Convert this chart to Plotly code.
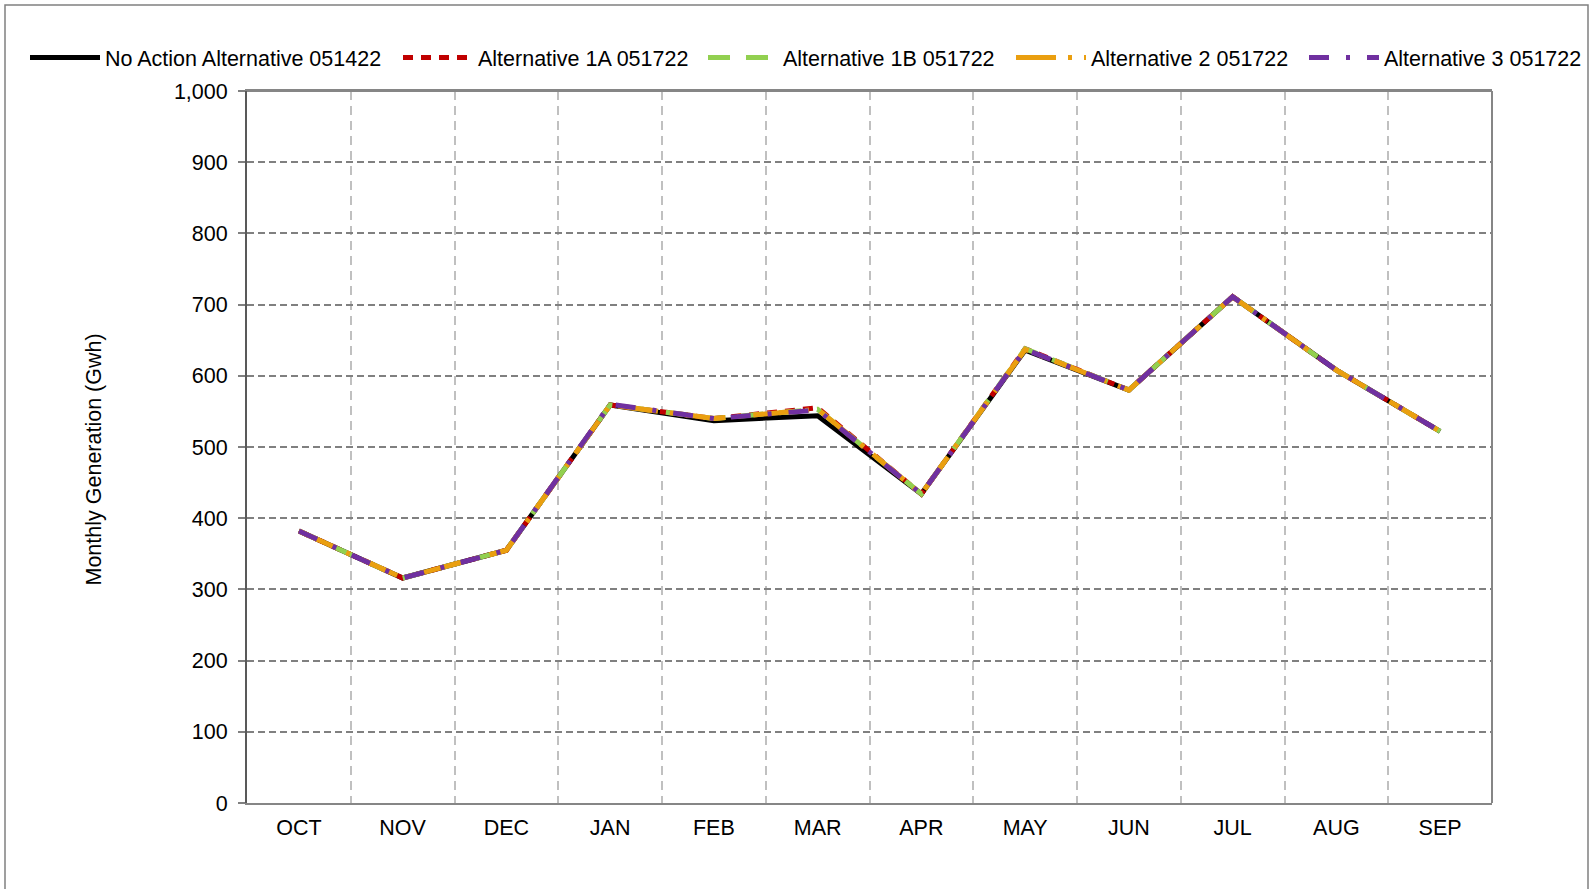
import plotly.graph_objects as go

months = ["OCT", "NOV", "DEC", "JAN", "FEB", "MAR", "APR", "MAY", "JUN", "JUL", "AUG", "SEP"]

no_action = [382, 316, 355, 559, 537, 544, 434, 636, 580, 711, 608, 522]
alt_1a = [382, 316, 355, 559, 540, 555, 434, 638, 580, 711, 608, 522]
alt_1b = [382, 316, 355, 559, 540, 553, 434, 638, 580, 711, 608, 522]
alt_2 = [382, 316, 355, 559, 540, 553, 434, 637, 580, 711, 608, 522]
alt_3 = [382, 316, 355, 560, 540, 552, 434, 637, 580, 711, 608, 522]

series_names = ["No Action Alternative 051422", "Alternative 1A 051722", "Alternative 1B 051722",
                "Alternative 2 051722", "Alternative 3 051722"]
series_values = [no_action, alt_1a, alt_1b, alt_2, alt_3]
colors = ["#000000", "#C00000", "#92D050", "#EA9F10", "#7030A0"]
dashes = ["solid", "10px,8px", "22px,16px", "40px,12px,4px,12px", "20px,17px,4px,17px"]
widths = [5, 5, 5, 5, 5]

W, H = 1595, 889
L, R, T, B = 247, 103, 91, 86
pw, ph = W - L - R, H - T - B
FS = 21.5

def px_x(p):
    return (p - L) / pw

def px_y(p):
    return (H - B - p) / ph

legend_left_px = [25, 398, 703, 1011, 1304]
legend_ids = ["legend", "legend2", "legend3", "legend4", "legend5"]

fig = go.Figure()
for name, vals, c, d, w, lid in zip(series_names, series_values, colors, dashes, widths, legend_ids):
    fig.add_trace(go.Scatter(x=months, y=vals, name=name, mode="lines", legend=lid,
                             line=dict(color=c, dash=d, width=w)))

font = "Liberation Sans, Arial, sans-serif"

legend_common = dict(orientation="h", yanchor="top", xanchor="left", y=px_y(37),
                     font=dict(size=FS), itemwidth=70, bgcolor="rgba(0,0,0,0)")
legend_layout = {}
for lid, lx in zip(legend_ids, legend_left_px):
    legend_layout[lid] = dict(legend_common, x=px_x(lx))

fig.update_layout(
    width=W, height=H,
    margin=dict(l=L, r=R, t=T, b=B, autoexpand=False),
    paper_bgcolor="white", plot_bgcolor="white",
    font=dict(family=font, size=FS, color="#000000"),
    showlegend=True,
    xaxis=dict(type="category", categoryorder="array", categoryarray=months,
               range=[-0.5, 11.5], showgrid=True, gridcolor="#C0C0C0", griddash="9px,6px",
               gridwidth=1.5, tickson="boundaries", ticks="", ticklabelstandoff=4,
               showline=True, linecolor="#868686", linewidth=2, mirror=True,
               zeroline=False, automargin=False, tickfont=dict(size=FS)),
    yaxis=dict(range=[0, 1000], dtick=100, tick0=0, tickformat=",",
               showgrid=True, gridcolor="#808080", griddash="7px,4px", gridwidth=1.5,
               ticks="outside", ticklen=7, tickcolor="#808080", tickwidth=1.5,
               ticklabelstandoff=6,
               showline=True, linecolor="#595959", linewidth=2, mirror=False,
               zeroline=False, automargin=False, tickfont=dict(size=FS)),
    annotations=[
        dict(text="Monthly Generation (Gwh)", textangle=-90, xref="paper", yref="paper",
             x=px_x(93.5), y=px_y(460), xanchor="center", yanchor="middle",
             showarrow=False, font=dict(size=FS)),
    ],
    shapes=[
        dict(type="line", xref="paper", yref="paper", x0=0, x1=1, y0=1, y1=1,
             line=dict(color="#868686", width=2)),
        dict(type="line", xref="paper", yref="paper", x0=1, x1=1, y0=0, y1=1,
             line=dict(color="#868686", width=2)),
        dict(type="path", xref="paper", yref="paper",
             path="M {} {} L {} {} L {} {} L {} {}".format(px_x(5), px_y(900), px_x(5), px_y(5),
                                                          px_x(1588), px_y(5), px_x(1588), px_y(900)),
             line=dict(color="#808080", width=1.5)),
    ],
    **legend_layout,
)

fig.write_html("out.html", config={"displayModeBar": False},
               post_script="document.body.style.margin='0px';")
